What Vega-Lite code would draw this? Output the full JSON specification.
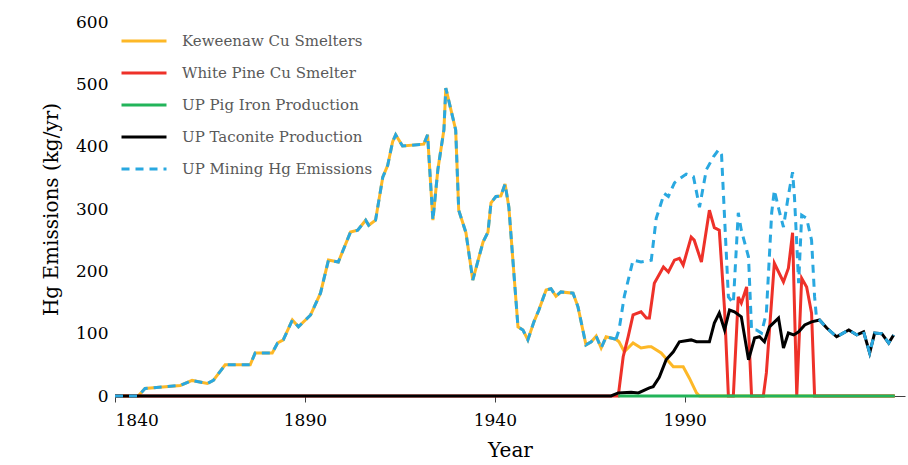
{
  "$schema": "https://vega.github.io/schema/vega-lite/v6.json",
  "width": 790,
  "height": 374,
  "autosize": "none",
  "padding": {"left": 115, "top": 22, "right": 3, "bottom": 69},
  "datasets": {
    "k": [
      [1840, 0], [1840.5, 0], [1846.1, 0], [1847.9, 12], [1857.2, 17], [1860.3, 25], [1864.3, 20], [1865.9, 25], [1869.0, 50], [1875.6, 50], [1876.9, 69], [1881.4, 69], [1882.8, 85], [1884.3, 90], [1886.7, 122], [1888.3, 111], [1891.5, 130], [1894.1, 165], [1896.2, 218], [1898.8, 215], [1902.0, 263], [1903.9, 266], [1906.0, 282], [1906.8, 274], [1908.6, 282], [1910.5, 351], [1911.8, 370], [1913.1, 408], [1913.9, 419], [1915.7, 401], [1921.3, 404], [1922.3, 419], [1923.7, 282], [1925.0, 363], [1926.6, 427], [1927.1, 494], [1929.7, 427], [1930.5, 298], [1932.4, 262], [1934.2, 186], [1936.9, 247], [1938.2, 263], [1939.0, 310], [1940.3, 320], [1941.6, 321], [1942.7, 340], [1943.7, 303], [1946.1, 111], [1947.4, 106], [1948.7, 90], [1950.3, 119], [1951.6, 138], [1953.5, 170], [1954.8, 172], [1956.1, 160], [1957.4, 167], [1960.6, 165], [1961.9, 143], [1964.0, 82], [1965.4, 87], [1966.7, 96], [1968.0, 77], [1969.3, 95], [1971.9, 91]
    ],
    "korange": [
      [1971.9, 91], [1972.7, 87], [1974.1, 71], [1976.4, 85], [1978.5, 77], [1980.4, 79], [1981.2, 79], [1983.8, 69], [1987.0, 47], [1989.6, 47], [1991.2, 29], [1993.1, 5], [1993.9, 0], [2045.3, 0]
    ],
    "mblue": [
      [1971.9, 91], [1972.7, 106], [1974.1, 160], [1976.4, 218], [1978.5, 215], [1981.2, 218], [1982.5, 285], [1984.6, 325], [1985.7, 320], [1987.3, 342], [1988.3, 347], [1990.4, 356], [1992.3, 352], [1993.9, 303], [1995.7, 363], [1997.6, 384], [1998.9, 395], [1999.7, 387], [2001.5, 159], [2002.8, 149], [2004.1, 294], [2004.9, 266], [2006.8, 223], [2007.6, 106], [2008.9, 106], [2010.2, 101], [2011.5, 133], [2012.9, 294], [2013.6, 330], [2015.0, 294], [2016.0, 271], [2017.3, 322], [2018.4, 359], [2018.9, 319], [2020.0, 181], [2020.8, 290], [2022.1, 285], [2023.4, 250], [2024.2, 159], [2024.7, 125], [2025.5, 122], [2027.4, 109], [2030.0, 95], [2033.2, 106], [2035.3, 98], [2037.1, 103], [2038.7, 69], [2040.0, 101], [2041.9, 100], [2043.7, 85], [2045.0, 98]
    ],
    "red": [
      [1840, 0], [1972.5, 0], [1973.8, 63], [1975.1, 95], [1976.4, 130], [1978.5, 135], [1979.9, 125], [1980.7, 125], [1982.0, 181], [1984.4, 207], [1985.7, 199], [1987.3, 218], [1988.6, 221], [1989.6, 210], [1991.7, 255], [1992.5, 250], [1994.4, 215], [1996.5, 298], [1997.8, 270], [1999.1, 266], [2000.5, 138], [2001.5, 0], [2002.8, 0], [2004.1, 159], [2004.9, 149], [2006.3, 175], [2007.6, 0], [2010.7, 0], [2011.5, 37], [2013.6, 213], [2016.0, 183], [2017.3, 205], [2018.4, 262], [2019.5, 0], [2020.8, 189], [2022.1, 175], [2023.4, 133], [2024.2, 0], [2045.3, 0]
    ],
    "black": [
      [1840, 0], [1970.6, 0], [1972.5, 5], [1975.9, 6], [1977.8, 5], [1980.7, 13], [1981.7, 15], [1983.3, 30], [1985.1, 58], [1987.0, 71], [1988.6, 87], [1991.7, 90], [1993.1, 87], [1996.5, 87], [1997.8, 117], [1999.1, 133], [2000.5, 106], [2001.8, 138], [2003.1, 135], [2004.9, 127], [2006.8, 58], [2008.4, 93], [2009.7, 95], [2011.0, 87], [2012.3, 111], [2014.7, 125], [2016.0, 77], [2017.3, 101], [2018.7, 98], [2020.0, 103], [2021.6, 114], [2023.4, 119], [2025.5, 122], [2027.4, 109], [2030.0, 95], [2033.2, 106], [2035.3, 98], [2037.1, 103], [2038.7, 69], [2040.0, 101], [2041.9, 100], [2043.7, 85], [2045.0, 98]
    ]
  },
  "data": {
    "values": [
      {"series": "Keweenaw Cu Smelters", "year": 1840, "hg": 0},
      {"series": "White Pine Cu Smelter", "year": 1840, "hg": 0},
      {"series": "UP Pig Iron Production", "year": 1840, "hg": 0},
      {"series": "UP Taconite Production", "year": 1840, "hg": 0},
      {"series": "UP Mining Hg Emissions", "year": 1840, "hg": 0}
    ]
  },
  "layer": [
    {
      "data": {"name": "k"},
      "transform": [{"calculate": "datum[0]", "as": "year"}, {"calculate": "datum[1]", "as": "hg"}],
      "mark": {"type": "line", "color": "#FDB827", "strokeWidth": 3},
      "encoding": {
        "x": {"field": "year", "type": "quantitative"},
        "y": {"field": "hg", "type": "quantitative"}
      }
    },
    {
      "data": {"name": "korange"},
      "transform": [{"calculate": "datum[0]", "as": "year"}, {"calculate": "datum[1]", "as": "hg"}],
      "mark": {"type": "line", "color": "#FDB827", "strokeWidth": 3},
      "encoding": {
        "x": {"field": "year", "type": "quantitative"},
        "y": {"field": "hg", "type": "quantitative"}
      }
    },
    {
      "data": {"name": "red"},
      "transform": [{"calculate": "datum[0]", "as": "year"}, {"calculate": "datum[1]", "as": "hg"}],
      "mark": {"type": "line", "color": "#EE3129", "strokeWidth": 3},
      "encoding": {
        "x": {"field": "year", "type": "quantitative"},
        "y": {"field": "hg", "type": "quantitative"}
      }
    },
    {
      "data": {"name": "black"},
      "transform": [{"calculate": "datum[0]", "as": "year"}, {"calculate": "datum[1]", "as": "hg"}],
      "mark": {"type": "line", "color": "#000000", "strokeWidth": 3},
      "encoding": {
        "x": {"field": "year", "type": "quantitative"},
        "y": {"field": "hg", "type": "quantitative"}
      }
    },
    {
      "data": {"values": [{"year": 1972.5, "hg": 0}, {"year": 2045.3, "hg": 0}]},
      "mark": {"type": "line", "color": "#22B45A", "strokeWidth": 3},
      "encoding": {
        "x": {"field": "year", "type": "quantitative"},
        "y": {"field": "hg", "type": "quantitative"}
      }
    },
    {
      "data": {"name": "k"},
      "transform": [{"calculate": "datum[0]", "as": "year"}, {"calculate": "datum[1]", "as": "hg"}],
      "mark": {"type": "line", "color": "#29A8E0", "strokeWidth": 3, "strokeDash": [8, 6]},
      "encoding": {
        "x": {"field": "year", "type": "quantitative"},
        "y": {"field": "hg", "type": "quantitative"}
      }
    },
    {
      "data": {"name": "mblue"},
      "transform": [{"calculate": "datum[0]", "as": "year"}, {"calculate": "datum[1]", "as": "hg"}],
      "mark": {"type": "line", "color": "#29A8E0", "strokeWidth": 3, "strokeDash": [8, 6]},
      "encoding": {
        "x": {"field": "year", "type": "quantitative"},
        "y": {"field": "hg", "type": "quantitative"}
      }
    },
    {
      "mark": {"type": "line", "strokeWidth": 3, "opacity": 0},
      "encoding": {
        "x": {"field": "year", "type": "quantitative", "scale": {"domain": [1840, 2048], "nice": false}, "axis": {"values": [1840, 1890, 1940, 1990], "format": "d", "title": "Year", "grid": false, "domainColor": "#404040", "tickColor": "#404040", "tickSize": 6, "labelFontSize": 17, "titleFontSize": 20, "titleFontWeight": "normal", "titlePadding": 12, "labelPadding": 10}},
        "y": {"field": "hg", "type": "quantitative", "scale": {"domain": [0, 600], "nice": false}, "axis": {"values": [0, 100, 200, 300, 400, 500, 600], "title": "Hg Emissions (kg/yr)", "grid": false, "domain": false, "ticks": false, "labelFontSize": 17, "titleFontSize": 20, "titleFontWeight": "normal", "labelPadding": 7, "titlePadding": 14}},
        "color": {
          "field": "series", "type": "nominal",
          "scale": {
            "domain": ["Keweenaw Cu Smelters", "White Pine Cu Smelter", "UP Pig Iron Production", "UP Taconite Production", "UP Mining Hg Emissions"],
            "range": ["#FDB827", "#EE3129", "#22B45A", "#000000", "#29A8E0"]
          },
          "legend": {"orient": "none", "legendX": 5, "legendY": -5, "title": null, "symbolType": "stroke", "symbolStrokeWidth": 3, "symbolSize": 2025, "symbolOpacity": 1, "labelFontSize": 15, "labelColor": "#595959", "labelLimit": 0, "rowPadding": -12, "labelOffset": 14}
        },
        "strokeDash": {
          "field": "series", "type": "nominal",
          "scale": {
            "domain": ["Keweenaw Cu Smelters", "White Pine Cu Smelter", "UP Pig Iron Production", "UP Taconite Production", "UP Mining Hg Emissions"],
            "range": [[1, 0], [1, 0], [1, 0], [1, 0], [8, 6]]
          },
          "legend": {"orient": "none", "legendX": 5, "legendY": -5, "title": null, "symbolType": "stroke", "symbolStrokeWidth": 3, "symbolSize": 2025, "symbolOpacity": 1, "labelFontSize": 15, "labelColor": "#595959", "labelLimit": 0, "rowPadding": -12, "labelOffset": 14}
        }
      }
    }
  ],
  "config": {
    "view": {"stroke": null},
    "font": "DejaVu Serif",
    "axis": {"labelColor": "#000000", "titleColor": "#000000", "labelFont": "DejaVu Serif", "titleFont": "DejaVu Serif"},
    "legend": {"labelFont": "DejaVu Serif"}
  }
}
